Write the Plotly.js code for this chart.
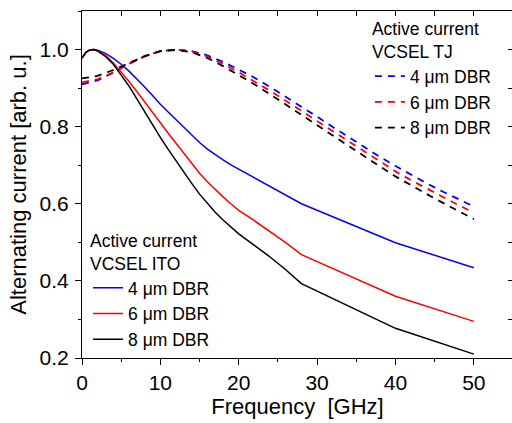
<!DOCTYPE html>
<html>
<head>
<meta charset="utf-8">
<script src="https://cdn.plot.ly/plotly-3.0.1.min.js"></script>
<style>
html,body{margin:0;padding:0;overflow:hidden;background:#fff;}
#chart{width:514px;height:423px;}
</style>
</head>
<body>
<div id="chart"></div>
<script>
// Frequency grid and values (arb. u.)
const freqITO = [0, 0.5, 1, 1.5, 2, 3, 4, 5, 6, 7, 8, 9, 10, 11, 12, 13, 14, 15, 16, 17, 18, 19, 20, 22, 24, 26, 28, 40, 50];
const ito4um = [0.978, 0.993, 0.999, 1.0, 0.998, 0.99, 0.977, 0.962, 0.944, 0.924, 0.903, 0.881, 0.858, 0.838, 0.818, 0.799, 0.78, 0.759, 0.742, 0.727, 0.714, 0.701, 0.69, 0.667, 0.645, 0.622, 0.6, 0.499, 0.434];
const ito6um = [0.978, 0.993, 0.999, 1.0, 0.997, 0.985, 0.965, 0.942, 0.917, 0.891, 0.865, 0.838, 0.81, 0.783, 0.757, 0.731, 0.705, 0.679, 0.657, 0.637, 0.618, 0.6, 0.583, 0.556, 0.528, 0.499, 0.468, 0.36, 0.295];
const ito8um = [0.978, 0.993, 0.999, 1.0, 0.996, 0.982, 0.962, 0.935, 0.905, 0.872, 0.838, 0.805, 0.772, 0.741, 0.711, 0.682, 0.653, 0.625, 0.6, 0.578, 0.558, 0.54, 0.522, 0.492, 0.462, 0.429, 0.393, 0.277, 0.21];

const freqTJ = [0, 2, 4, 6, 8, 10, 12, 14, 16, 18, 20, 22, 24, 26, 28, 30, 32, 34, 36, 38, 40, 42, 44, 46, 48, 50];
const tj4um = [0.91, 0.92, 0.94, 0.963, 0.983, 0.996, 1.0, 0.996, 0.985, 0.968, 0.948, 0.927, 0.903, 0.878, 0.852, 0.826, 0.799, 0.773, 0.747, 0.722, 0.698, 0.675, 0.653, 0.632, 0.612, 0.593];
const tj6um = [0.915, 0.923, 0.941, 0.963, 0.982, 0.996, 1.0, 0.995, 0.982, 0.963, 0.941, 0.918, 0.893, 0.867, 0.841, 0.815, 0.788, 0.761, 0.735, 0.71, 0.684, 0.661, 0.639, 0.618, 0.597, 0.577];
const tj8um = [0.925, 0.932, 0.947, 0.966, 0.983, 0.996, 0.999, 0.993, 0.978, 0.957, 0.934, 0.91, 0.884, 0.857, 0.83, 0.803, 0.776, 0.749, 0.723, 0.697, 0.671, 0.647, 0.625, 0.603, 0.581, 0.56];

const seriesNames = ['4 μm DBR', '6 μm DBR', '8 μm DBR'];
const colors = ['#0000ff', '#ff0000', '#000000'];

const FONT = 'Liberation Sans, Arial, sans-serif';
const itoVals = [ito4um, ito6um, ito8um];
const tjVals = [tj4um, tj6um, tj8um];

const traces = [];
itoVals.forEach((v, i) => traces.push({
  x: freqITO, y: v, type: 'scatter', mode: 'lines', name: seriesNames[i],
  line: {color: colors[i], width: 1.5}, legend: 'legend', xaxis: 'x', yaxis: 'y'
}));
tjVals.forEach((v, i) => traces.push({
  x: freqTJ, y: v, type: 'scatter', mode: 'lines', name: seriesNames[i],
  line: {color: colors[i], width: 1.8, dash: '7px,6px'}, legend: 'legend2', xaxis: 'x2', yaxis: 'y2'
}));

const layout = {
  width: 514, height: 423,
  margin: {l: 82, r: 1, t: 11, b: 65, pad: 0},
  paper_bgcolor: '#fff', plot_bgcolor: '#fff',
  font: {family: FONT, size: 21, color: '#000'},
  showlegend: true,
  xaxis: {
    range: [0, 55], tick0: 0, dtick: 10, ticks: 'outside', ticklen: 6, tickwidth: 1, tickcolor: '#000',
    showline: true, linecolor: '#000', linewidth: 1, showgrid: false, zeroline: false,
    minor: {dtick: 5, ticks: 'outside', ticklen: 3, tickcolor: '#000', showgrid: false},
    tickfont: {size: 21, family: FONT}, ticklabelstandoff: 0,
    title: {text: 'Frequency  [GHz]', font: {size: 22, family: FONT}, standoff: 4}
  },
  yaxis: {
    range: [0.2, 1.1], tick0: 0.2, dtick: 0.2, tickformat: '.1f', ticks: 'outside', ticklen: 6, tickwidth: 1, tickcolor: '#000',
    showline: true, linecolor: '#000', linewidth: 1, showgrid: false, zeroline: false,
    minor: {dtick: 0.1, ticks: 'outside', ticklen: 3, tickcolor: '#000', showgrid: false},
    tickfont: {size: 21, family: FONT}, ticklabelstandoff: 2,
    title: {text: 'Alternating current [arb. u.]', font: {size: 22, family: FONT}, standoff: 6}
  },
  xaxis2: {
    overlaying: 'x', side: 'top', anchor: 'y2', range: [0, 55], tick0: 0, dtick: 5,
    ticks: 'inside', ticklen: 5, tickcolor: '#000', showticklabels: false,
    showline: true, linecolor: '#000', linewidth: 1, showgrid: false, zeroline: false
  },
  yaxis2: {
    overlaying: 'y', side: 'right', anchor: 'x2', range: [0.2, 1.1], tick0: 0.2, dtick: 0.1,
    ticks: 'inside', ticklen: 5, tickcolor: '#000', showticklabels: false,
    showline: true, linecolor: '#000', linewidth: 1, showgrid: false, zeroline: false
  },
  legend: {
    x: 0.014, y: 0.385, xanchor: 'left', yanchor: 'top', bgcolor: 'rgba(0,0,0,0)',
    font: {size: 17.5, family: FONT, color: '#000'},
    title: {text: 'Active current<br>VCSEL ITO', font: {size: 17.5, family: FONT, color: '#000'}},
    tracegroupgap: 0, itemwidth: 30
  },
  legend2: {
    x: 0.668, y: 0.995, xanchor: 'left', yanchor: 'top', bgcolor: 'rgba(0,0,0,0)',
    font: {size: 17.5, family: FONT, color: '#000'},
    title: {text: 'Active current<br>VCSEL TJ', font: {size: 17.5, family: FONT, color: '#000'}},
    tracegroupgap: 0, itemwidth: 30
  }
};

Plotly.newPlot('chart', traces, layout, {displayModeBar: false, staticPlot: true});
</script>
</body>
</html>
